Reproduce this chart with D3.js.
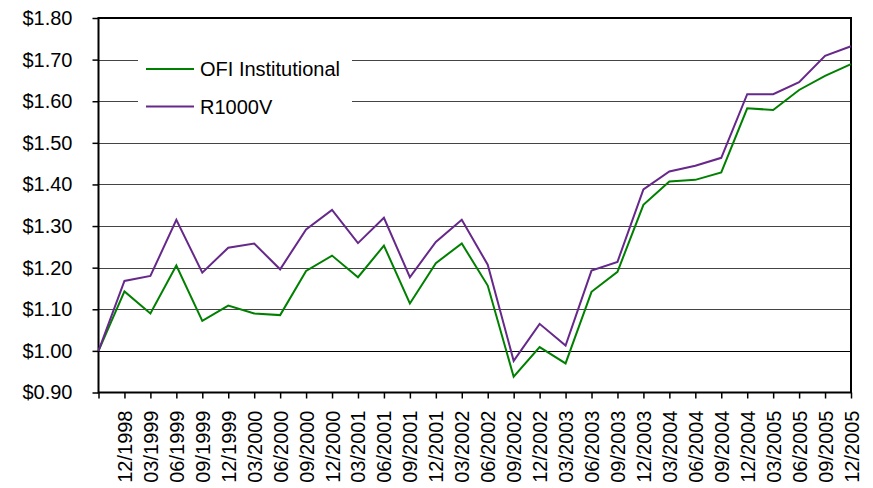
<!DOCTYPE html>
<html>
<head>
<meta charset="utf-8">
<style>
  body { margin: 0; background: #fff; }
  svg text { font-family: "Liberation Sans", Arial, sans-serif; fill: #000; }
</style>
<script src="https://d3js.org/d3.v7.min.js"></script>
</head>
<body>
<div id="chart"></div>
<script>
// quarter-end labels (first point is the starting value, unlabeled)
var periods = ["", "12/1998", "03/1999", "06/1999", "09/1999", "12/1999", "03/2000", "06/2000",
  "09/2000", "12/2000", "03/2001", "06/2001", "09/2001", "12/2001", "03/2002", "06/2002",
  "09/2002", "12/2002", "03/2003", "06/2003", "09/2003", "12/2003", "03/2004", "06/2004",
  "09/2004", "12/2004", "03/2005", "06/2005", "09/2005", "12/2005"];

var ofiValues = [1.000, 1.143, 1.090, 1.205, 1.072, 1.109, 1.090, 1.086,
  1.192, 1.229, 1.177, 1.253, 1.114, 1.211, 1.258, 1.157,
  0.938, 1.009, 0.970, 1.142, 1.190, 1.351, 1.407, 1.411,
  1.429, 1.583, 1.579, 1.627, 1.661, 1.689];

var r1000vValues = [1.000, 1.168, 1.180, 1.315, 1.188, 1.248, 1.258, 1.196,
  1.292, 1.339, 1.259, 1.320, 1.177, 1.262, 1.315, 1.207,
  0.976, 1.065, 1.013, 1.193, 1.214, 1.388, 1.431, 1.445,
  1.464, 1.617, 1.617, 1.646, 1.709, 1.732];

var yTicks = [0.9, 1.0, 1.1, 1.2, 1.3, 1.4, 1.5, 1.6, 1.7, 1.8];

var series = [
  { name: "OFI Institutional", values: ofiValues, color: "#008000" },
  { name: "R1000V", values: r1000vValues, color: "#66288a" }
];

var width = 873, height = 488;
var margin = { top: 18, right: 22, bottom: 95.5, left: 98.5 };

var svg = d3.select("#chart").append("svg")
  .attr("width", width)
  .attr("height", height);

var x = d3.scaleLinear()
  .domain([0, periods.length - 1])
  .range([margin.left, width - margin.right]);

var y = d3.scaleLinear()
  .domain([0.9, 1.8])
  .range([height - margin.bottom, margin.top]);

// gridlines
svg.append("g")
  .selectAll("line")
  .data(yTicks.slice(1, -1))
  .join("line")
    .attr("x1", margin.left)
    .attr("x2", width - margin.right)
    .attr("y1", function(d) { return Math.round(y(d)) + 0.5; })
    .attr("y2", function(d) { return Math.round(y(d)) + 0.5; })
    .attr("stroke", function(d) { return d === 1.0 ? "#000" : "#444"; })
    .attr("stroke-width", 1);

// y axis
var yAxis = svg.append("g")
  .attr("transform", "translate(" + margin.left + ",0)")
  .call(d3.axisLeft(y)
    .tickValues(yTicks)
    .tickSize(6)
    .tickPadding(20)
    .tickFormat(function(d) { return "$" + d.toFixed(2); }));
yAxis.select(".domain").remove();
yAxis.selectAll("line").attr("stroke", "#000").attr("stroke-width", 1.5);
yAxis.selectAll("text")
  .attr("font-size", 20)
  .attr("font-family", "Liberation Sans, Arial, sans-serif")
  .attr("fill", "#000");

// x axis
var xAxis = svg.append("g")
  .attr("transform", "translate(0," + (height - margin.bottom) + ")")
  .call(d3.axisBottom(x)
    .tickValues(d3.range(periods.length))
    .tickSize(6)
    .tickFormat(function(i) { return periods[i]; }));
xAxis.select(".domain").remove();
xAxis.selectAll("line").attr("stroke", "#000").attr("stroke-width", 1.5);
xAxis.selectAll("text")
  .attr("font-size", 20)
  .attr("font-family", "Liberation Sans, Arial, sans-serif")
  .attr("fill", "#000")
  .attr("transform", "rotate(-90)")
  .attr("text-anchor", "end")
  .attr("x", -18)
  .attr("y", 0)
  .attr("dy", "0.35em");

// plot frame
svg.append("rect")
  .attr("x", margin.left)
  .attr("y", margin.top)
  .attr("width", width - margin.left - margin.right)
  .attr("height", height - margin.top - margin.bottom)
  .attr("fill", "none")
  .attr("stroke", "#000")
  .attr("stroke-width", 2);

// lines
var line = d3.line()
  .x(function(d, i) { return x(i); })
  .y(function(d) { return y(d); });

svg.append("g")
  .selectAll("path")
  .data(series)
  .join("path")
    .attr("d", function(s) { return line(s.values); })
    .attr("fill", "none")
    .attr("stroke", function(s) { return s.color; })
    .attr("stroke-width", 2)
    .attr("stroke-linejoin", "miter");

// legend
var legend = svg.append("g");
legend.append("rect")
  .attr("x", 138)
  .attr("y", 48)
  .attr("width", 214)
  .attr("height", 72)
  .attr("fill", "#fff");

var item = legend.selectAll("g")
  .data(series)
  .join("g")
    .attr("transform", function(d, i) { return "translate(146," + (69 + i * 37.5) + ")"; });

item.append("line")
  .attr("x1", 0)
  .attr("x2", 48)
  .attr("stroke", function(d) { return d.color; })
  .attr("stroke-width", 2);

item.append("text")
  .attr("x", 54)
  .attr("dy", "0.35em")
  .attr("font-size", 20)
  .text(function(d) { return d.name; });
</script>
</body>
</html>
